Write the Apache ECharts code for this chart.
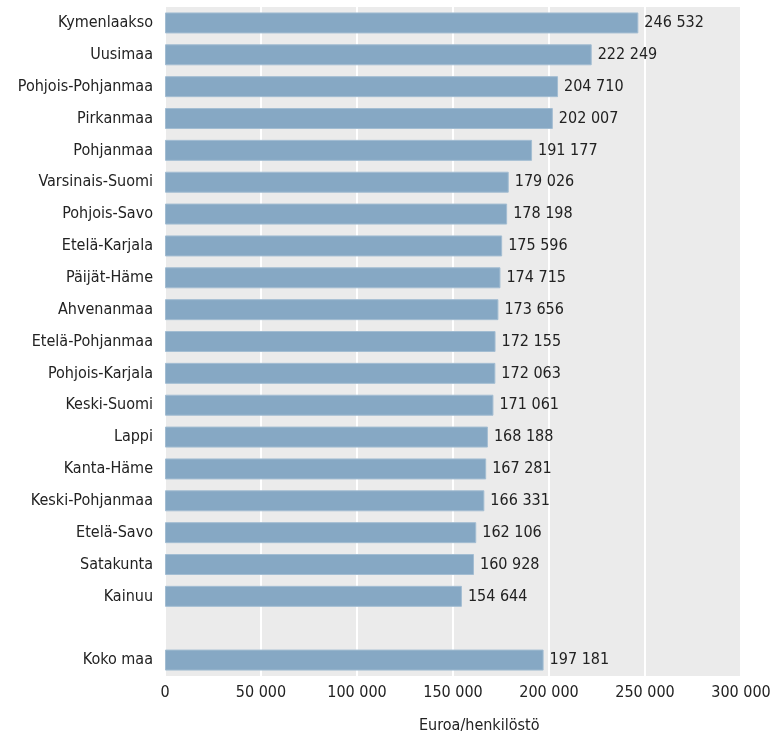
<!DOCTYPE html>
<html>
<head>
<meta charset="utf-8">
<script src="https://cdn.jsdelivr.net/npm/echarts@6/dist/echarts.min.js"></script>
<style>
  html, body { margin: 0; padding: 0; background: #fff; }
  #main { width: 775px; height: 740px; }
</style>
</head>
<body>
<div id="main"></div>
<script>
// alueet ja arvot (euroa / henkilöstö)
var regions = ['Kymenlaakso', 'Uusimaa', 'Pohjois-Pohjanmaa', 'Pirkanmaa', 'Pohjanmaa',
  'Varsinais-Suomi', 'Pohjois-Savo', 'Etelä-Karjala', 'Päijät-Häme', 'Ahvenanmaa',
  'Etelä-Pohjanmaa', 'Pohjois-Karjala', 'Keski-Suomi', 'Lappi', 'Kanta-Häme',
  'Keski-Pohjanmaa', 'Etelä-Savo', 'Satakunta', 'Kainuu', '', 'Koko maa'];
var values = [246532, 222249, 204710, 202007, 191177, 179026, 178198, 175596, 174715, 173656,
  172155, 172063, 171061, 168188, 167281, 166331, 162106, 160928, 154644, null, 197181];
var axisTitle = 'Euroa/henkilöstö';

var font = "'Liberation Sans Narrow', 'DejaVu Sans Condensed', sans-serif";

function fmt(v) {
  return String(v).replace(/\B(?=(\d{3})+(?!\d))/g, ' ');
}

var myChart = echarts.init(document.getElementById('main'));
myChart.setOption({
  animation: false,
  textStyle: { fontFamily: font },
  grid: {
    left: 165, right: 34, top: 7, bottom: 64,
    show: true, backgroundColor: '#ebebeb', borderWidth: 0
  },
  graphic: [{
    type: 'text',
    left: 419, top: 718,
    style: { text: axisTitle, fontFamily: font, fontSize: 16, fill: '#222' }
  }],
  xAxis: {
    type: 'value',
    min: 0, max: 300000, interval: 50000,
    axisLine: { show: false },
    axisTick: { show: false },
    splitLine: { show: true, lineStyle: { color: '#ffffff', width: 2 } },
    axisLabel: {
      margin: 9, fontSize: 16, color: '#222', fontFamily: font,
      formatter: function (v) { return fmt(v); }
    }
  },
  yAxis: {
    type: 'category',
    inverse: true,
    data: regions,
    axisLine: { show: false },
    axisTick: { show: false },
    splitLine: { show: false },
    axisLabel: { margin: 12, fontSize: 16, color: '#222', fontFamily: font }
  },
  series: [{
    type: 'bar',
    data: values,
    barWidth: 21,
    itemStyle: { color: '#86a8c4', borderColor: '#a3bdd2', borderWidth: 1 },
    label: {
      show: true, position: 'right', distance: 6,
      fontSize: 16, color: '#222', fontFamily: font,
      formatter: function (p) { return fmt(p.value); }
    }
  }]
});
</script>
</body>
</html>
